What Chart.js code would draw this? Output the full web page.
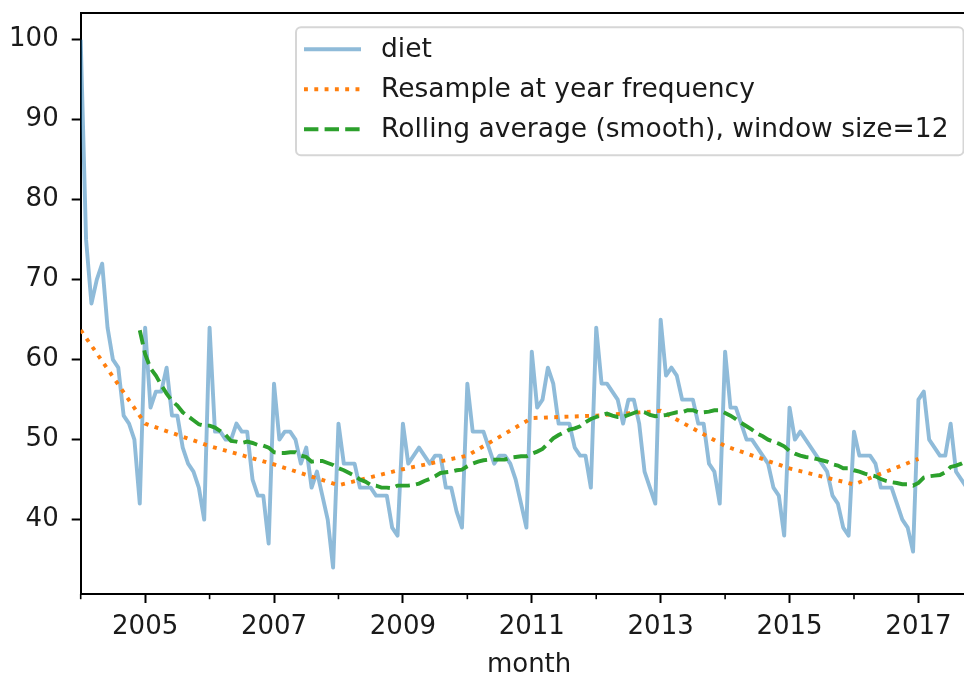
<!DOCTYPE html>
<html>
<head>
<meta charset="utf-8">
<script src="https://cdn.jsdelivr.net/npm/chart.js@4.4.1/dist/chart.umd.min.js"></script>
<style>
  html, body { margin: 0; padding: 0; background: #fff; }
  #wrap { width: 964px; height: 674px; overflow: hidden; }
  #chart { display: block; }
</style>
</head>
<body>
<div id="wrap"><canvas id="chart" width="990" height="674"></canvas></div>
<script>
// monthly google trends values, Jan 2004 .. Dec 2017
const firstYear = 2004;
const diet = [
    100, 75, 67, 70, 72, 64, 60, 59, 53, 52, 50, 42,
    64, 54, 56, 56, 59, 53, 53, 49, 47, 46, 44, 40,
    64, 51, 51, 50, 50, 52, 51, 51, 45, 43, 43, 37,
    57, 50, 51, 51, 50, 47, 49, 44, 46, 43, 40, 34,
    52, 47, 47, 47, 44, 44, 44, 43, 43, 43, 39, 38,
    52, 47, 48, 49, 48, 47, 48, 48, 44, 44, 41, 39,
    57, 51, 51, 51, 49, 47, 48, 48, 47, 45, 42, 39,
    61, 54, 55, 59, 57, 52, 52, 52, 49, 48, 48, 44,
    64, 57, 57, 56, 55, 52, 55, 55, 52, 46, 44, 42,
    65, 58, 59, 58, 55, 55, 55, 52, 52, 47, 46, 42,
    61, 54, 54, 52, 50, 50, 49, 48, 47, 44, 43, 38,
    54, 50, 51, 50, 49, 48, 47, 46, 43, 42, 39, 38,
    51, 48, 48, 48, 47, 44, 44, 44, 42, 40, 39, 36,
    55, 56, 50, 49, 48, 48, 52, 46, 45, 44, 41, 36
];

// yearly means, plotted at January of each year
const resampleYears = [2004, 2005, 2006, 2007, 2008, 2009, 2010, 2011, 2012, 2013, 2014, 2015, 2016, 2017];
const resample = [63.7, 52.0, 49.2, 46.9, 44.3, 46.3, 48.0, 52.7, 53.0, 53.6, 49.2, 46.4, 44.4, 47.6];

// 12 month rolling mean, first value at Dec 2004
const rollingStart = 11;
const rolling = [
    63.67,
    60.67, 58.92, 58.00, 56.83, 55.75, 54.83, 54.25, 53.42, 52.92, 52.42, 51.92, 51.75,
    51.75, 51.50, 51.08, 50.58, 49.83, 49.75, 49.58, 49.75, 49.58, 49.33, 49.25, 49.00,
    48.42, 48.33, 48.33, 48.42, 48.42, 48.00, 47.83, 47.25, 47.33, 47.33, 47.08, 46.83,
    46.42, 46.17, 45.83, 45.50, 45.00, 44.75, 44.33, 44.25, 44.00, 44.00, 43.92, 44.25,
    44.25, 44.25, 44.33, 44.50, 44.83, 45.08, 45.42, 45.83, 45.92, 46.00, 46.17, 46.25,
    46.67, 47.00, 47.25, 47.42, 47.50, 47.50, 47.50, 47.50, 47.75, 47.83, 47.92, 47.92,
    48.25, 48.50, 48.83, 49.50, 50.17, 50.58, 50.92, 51.25, 51.42, 51.67, 52.17, 52.58,
    52.83, 53.08, 53.25, 53.00, 52.83, 52.83, 53.08, 53.33, 53.58, 53.42, 53.08, 52.92,
    53.00, 53.08, 53.25, 53.42, 53.42, 53.67, 53.67, 53.42, 53.42, 53.50, 53.67, 53.67,
    53.33, 53.00, 52.58, 52.08, 51.67, 51.25, 50.75, 50.42, 50.00, 49.75, 49.50, 49.17,
    48.58, 48.25, 48.00, 47.83, 47.75, 47.58, 47.42, 47.25, 46.92, 46.75, 46.42, 46.42,
    46.17, 46.00, 45.75, 45.58, 45.42, 45.08, 44.83, 44.67, 44.58, 44.42, 44.42, 44.25,
    44.58, 45.25, 45.42, 45.50, 45.58, 45.92, 46.58, 46.75, 47.00, 47.33, 47.50, 47.50
];

const xTickYears = [2004, 2005, 2006, 2007, 2008, 2009, 2010, 2011, 2012, 2013, 2014, 2015, 2016, 2017];
const yTicks = [40, 50, 60, 70, 80, 90, 100];
const yMin = 30.7, yMax = 103.3;

const FONT = 'DejaVu Sans';
const EM = 26;
const lw = 3.9;

function monthIndex(year) { return (year - firstYear) * 12; }

function noPadding(s) {
    s.paddingTop = 0; s.paddingBottom = 0;
    s.paddingLeft = 0; s.paddingRight = 0;
}

// short ticks on even years, like matplotlib minor ticks
const minorTicks = {
    id: 'minorTicks',
    afterDraw(chart) {
        const s = chart.scales.x;
        const ctx = chart.ctx;
        ctx.save();
        ctx.strokeStyle = '#000';
        ctx.lineWidth = 1.6;
        s.ticks.forEach(t => {
            const yr = firstYear + t.value / 12;
            if (yr % 2 === 0) {
                const px = s.getPixelForValue(t.value);
                ctx.beginPath();
                ctx.moveTo(px, s.top);
                ctx.lineTo(px, s.top + 5.2);
                ctx.stroke();
            }
        });
        ctx.restore();
    }
};

// legend box in the upper right, drawn like the pyplot one
const boxLegend = {
    id: 'boxLegend',
    afterDraw(chart) {
        const {ctx, chartArea} = chart;
        const sets = chart.data.datasets;
        ctx.save();
        ctx.font = '26.5px "' + FONT + '"';
        let textW = 0;
        sets.forEach(d => { textW = Math.max(textW, ctx.measureText(d.label).width); });
        const padL = 8, handle = 57, gap = 20, padR = 15, rowH = 40;
        const w = padL + handle + gap + textW + padR;
        const h = 128;
        const right = chartArea.right - 14;
        const top = chartArea.top + 14;
        const left = right - w;

        ctx.beginPath();
        ctx.roundRect(left, top, w, h, 5);
        ctx.fillStyle = 'rgba(255,255,255,0.8)';
        ctx.fill();
        ctx.strokeStyle = 'rgba(204,204,204,0.8)';
        ctx.lineWidth = 2;
        ctx.stroke();

        sets.forEach((d, i) => {
            const cy = top + 22 + i * rowH;
            ctx.beginPath();
            ctx.setLineDash(d.borderDash || []);
            ctx.lineCap = 'butt';
            ctx.strokeStyle = d.borderColor;
            ctx.lineWidth = d.borderWidth;
            ctx.moveTo(left + padL, cy);
            ctx.lineTo(left + padL + handle, cy);
            ctx.stroke();
            ctx.setLineDash([]);
            ctx.fillStyle = '#1a1a1a';
            ctx.textAlign = 'left';
            ctx.textBaseline = 'middle';
            ctx.fillText(d.label, left + padL + handle + gap, cy + 1);
        });
        ctx.restore();
    }
};

const tickFont = { family: FONT, size: EM };

new Chart(document.getElementById('chart'), {
    type: 'line',
    data: {
        datasets: [{
            label: 'diet',
            data: diet.map((v, i) => ({ x: i, y: v })),
            borderColor: 'rgba(31,119,180,0.5)',
            borderWidth: lw,
            borderJoinStyle: 'round',
            pointRadius: 0,
            order: 3,
        }, {
            label: 'Resample at year frequency',
            data: resampleYears.map((yr, i) => ({ x: monthIndex(yr), y: resample[i] })),
            borderColor: '#ff7f0e',
            borderWidth: lw,
            borderDash: [3.9, 6.4],
            pointRadius: 0,
            order: 2,
        }, {
            label: 'Rolling average (smooth), window size=12',
            data: rolling.map((v, i) => ({ x: rollingStart + i, y: v })),
            borderColor: '#2ca02c',
            borderWidth: lw,
            borderDash: [14.4, 6.2],
            pointRadius: 0,
            order: 1,
        }],
    },
    options: {
        responsive: false,
        animation: false,
        devicePixelRatio: 1,
        layout: {
            padding: { top: 13.3, right: 12.5, bottom: 0, left: 0 },
        },
        plugins: {
            legend: { display: false },
            tooltip: { enabled: false },
        },
        elements: {
            line: { tension: 0, fill: false },
        },
        scales: {
            x: {
                type: 'linear',
                position: 'bottom',
                min: 0,
                max: diet.length - 1,
                afterBuildTicks: s => { s.ticks = xTickYears.map(y => ({ value: monthIndex(y) })); },
                afterFit: s => { s.height = 80; noPadding(s); },
                ticks: {
                    autoSkip: false,
                    maxRotation: 0,
                    padding: 9,
                    color: '#1a1a1a',
                    font: tickFont,
                    callback: v => {
                        const yr = firstYear + v / 12;
                        return yr % 2 ? String(yr) : '';
                    },
                },
                grid: {
                    drawOnChartArea: false,
                    tickLength: 9,
                    tickWidth: 2,
                    tickColor: c => {
                        if (!c.tick) return '#000';
                        return (firstYear + c.tick.value / 12) % 2 ? '#000' : 'rgba(0,0,0,0)';
                    },
                },
                border: { color: '#000', width: 2 },
                title: {
                    display: true,
                    text: 'month',
                    color: '#1a1a1a',
                    font: { family: FONT, size: EM, lineHeight: '18px' },
                    padding: { top: 0, bottom: 0 },
                },
            },
            x2: {
                type: 'linear',
                position: 'top',
                min: 0,
                max: diet.length - 1,
                afterFit: s => { s.height = 0; noPadding(s); },
                ticks: { display: false },
                grid: { drawOnChartArea: false, drawTicks: false },
                border: { display: true, color: '#000', width: 2 },
            },
            y: {
                type: 'linear',
                min: yMin,
                max: yMax,
                afterBuildTicks: s => { s.ticks = yTicks.map(v => ({ value: v })); },
                afterFit: s => { s.width = 80.7; noPadding(s); },
                ticks: {
                    padding: 13,
                    color: '#1a1a1a',
                    font: tickFont,
                },
                grid: {
                    drawOnChartArea: false,
                    tickLength: 9,
                    tickWidth: 2,
                    tickColor: '#000',
                },
                border: { color: '#000', width: 2 },
            },
        },
    },
    plugins: [minorTicks, boxLegend],
});
</script>
</body>
</html>
